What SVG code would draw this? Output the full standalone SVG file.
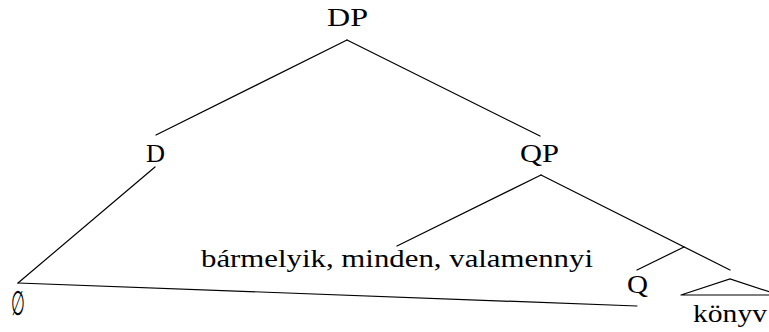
<svg xmlns="http://www.w3.org/2000/svg" width="769" height="332" viewBox="0 0 769 332">
  <style>
    .lbl { font-family: "Liberation Serif", "DejaVu Serif", serif; font-size: 26px; fill: #000; }
    .edge { stroke: #000; stroke-width: 1.2; fill: none; stroke-linecap: round; }
  </style>
  <rect width="769" height="332" fill="#fff"/>

  <g id="connectors">
    <line class="edge" x1="347" y1="40" x2="156" y2="135"/>
    <line class="edge" x1="347" y1="40" x2="540" y2="136"/>
    <line class="edge" x1="155" y1="167" x2="18" y2="283"/>
    <line class="edge" x1="18" y1="283" x2="637" y2="306"/>
    <line class="edge" x1="541" y1="175" x2="397" y2="246"/>
    <line class="edge" x1="541" y1="175" x2="730" y2="270"/>
    <line class="edge" x1="684" y1="247" x2="637" y2="270"/>
  </g>

  <g id="node-dp">
    <text class="lbl" x="327" y="26" textLength="41" lengthAdjust="spacingAndGlyphs">DP</text>
  </g>
  <g id="node-d">
    <text class="lbl" x="146" y="162" textLength="19" lengthAdjust="spacingAndGlyphs">D</text>
  </g>
  <g id="node-qp">
    <text class="lbl" x="520" y="162" textLength="39" lengthAdjust="spacingAndGlyphs">QP</text>
  </g>
  <g id="node-quantifiers">
    <text class="lbl" x="201" y="267" textLength="392" lengthAdjust="spacingAndGlyphs">bármelyik, minden, valamennyi</text>
  </g>
  <g id="node-q">
    <text class="lbl" x="627" y="293" textLength="21" lengthAdjust="spacingAndGlyphs">Q</text>
  </g>
  <g id="node-empty">
    <text class="lbl" x="11" y="315" style="font-size:34px" textLength="14" lengthAdjust="spacingAndGlyphs">∅</text>
  </g>
  <g id="node-konyv">
    <polyline class="edge" points="681,295 730,279 779,295 681,295"/>
    <text class="lbl" x="693" y="322" textLength="74" lengthAdjust="spacingAndGlyphs">könyv</text>
  </g>
</svg>
